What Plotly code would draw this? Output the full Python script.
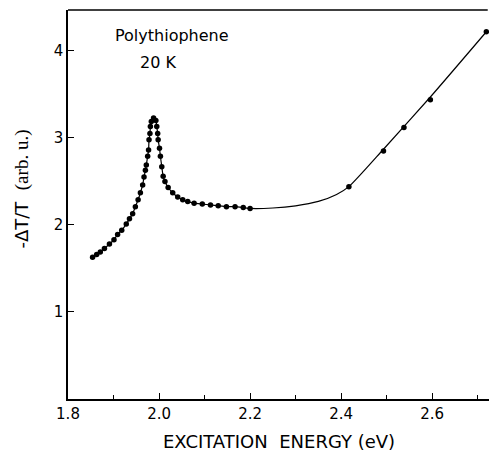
import plotly.graph_objects as go

# Measured points (energy in eV, -dT/T in arb. units)
energy = [1.854, 1.863, 1.871, 1.880, 1.891, 1.901, 1.909, 1.918, 1.928, 1.935,
          1.942, 1.948, 1.954, 1.959, 1.964, 1.967, 1.970, 1.972, 1.975, 1.977,
          1.978, 1.980, 1.981, 1.983, 1.988, 1.993, 1.995, 1.997, 1.998, 2.001,
          2.003, 2.006, 2.009, 2.013, 2.020, 2.030, 2.041, 2.052, 2.063, 2.077,
          2.095, 2.113, 2.130, 2.148, 2.167, 2.185, 2.200,
          2.417, 2.493, 2.538, 2.596, 2.719]
signal = [1.63, 1.66, 1.69, 1.73, 1.78, 1.83, 1.89, 1.94, 2.01, 2.07,
          2.13, 2.21, 2.29, 2.37, 2.46, 2.55, 2.63, 2.69, 2.79, 2.86,
          2.98, 3.05, 3.13, 3.19, 3.23, 3.20, 3.13, 3.05, 2.98, 2.88,
          2.79, 2.67, 2.56, 2.50, 2.43, 2.37, 2.32, 2.29, 2.27, 2.25,
          2.24, 2.23, 2.22, 2.21, 2.21, 2.20, 2.19,
          2.44, 2.85, 3.12, 3.44, 4.22]

# Drawn guide curve beyond the measured dense region
curve_x = [2.25, 2.30, 2.35, 2.39, 2.417, 2.493, 2.596, 2.719]
curve_y = [2.195, 2.22, 2.27, 2.35, 2.44, 2.87, 3.47, 4.22]

line_x = energy[:47] + curve_x
line_y = signal[:47] + curve_y

x_ticks = [1.8, 2.0, 2.2, 2.4, 2.6]
x_tick_labels = ["1.8", "2.0", "2.2", "2.4", "2.6"]
x_minor_ticks = [1.9, 2.1, 2.3, 2.5, 2.7]
y_ticks = [1, 2, 3, 4]
y_tick_labels = ["1", "2", "3", "4"]

fig = go.Figure()
fig.add_trace(go.Scatter(x=line_x, y=line_y, mode="lines",
                         line=dict(color="black", width=1.2, shape="spline", smoothing=0.6),
                         hoverinfo="skip", showlegend=False, cliponaxis=False))
fig.add_trace(go.Scatter(x=energy, y=signal, mode="markers",
                         marker=dict(color="black", size=5.5),
                         showlegend=False, cliponaxis=False))

font_main = "DejaVu Sans, Liberation Sans, sans-serif"

fig.update_layout(
    width=482, height=443,
    margin=dict(l=60, r=0, t=2, b=52),
    paper_bgcolor="white", plot_bgcolor="white",
    font=dict(family=font_main, color="black", size=15),
    xaxis=dict(range=[1.8, 2.727], tickvals=x_ticks, ticktext=x_tick_labels,
               ticks="inside", ticklen=6, tickwidth=1.2, tickcolor="black",
               minor=dict(tickvals=x_minor_ticks, ticks="inside",
                          ticklen=4, tickwidth=1, tickcolor="black"),
               showline=True, linecolor="black", linewidth=1.5, mirror=False,
               showgrid=False, zeroline=False,
               tickfont=dict(size=15, family=font_main)),
    yaxis=dict(range=[0, 4.47], tickvals=y_ticks, ticktext=y_tick_labels,
               ticks="inside", ticklen=6, tickwidth=1.2, tickcolor="black",
               showline=True, linecolor="black", linewidth=1.5,
               showgrid=False, zeroline=False,
               tickfont=dict(size=15, family=font_main)),
)

# top frame line (no right axis in the original)
fig.add_shape(type="line", xref="x", yref="paper", x0=1.8, x1=2.722, y0=1, y1=1,
              line=dict(color="black", width=1.3))

fig.add_annotation(text="EXCITATION  ENERGY (eV)", xref="paper", yref="paper",
                   x=0.5, y=-0.108, yanchor="middle", showarrow=False,
                   font=dict(size=18, family=font_main))
fig.add_annotation(text="-ΔT/T  <span style='font-family:Liberation Serif, Times New Roman, serif;font-size:19px'>(arb. u.)</span>",
                   xref="paper", yref="paper", x=-0.11, y=0.54, xanchor="center", yanchor="middle",
                   textangle=-90, showarrow=False, font=dict(size=18, family=font_main))
fig.add_annotation(text="Polythiophene", xref="paper", yref="paper",
                   x=0.107, y=0.935, xanchor="left", yanchor="middle", showarrow=False,
                   font=dict(size=16, family=font_main))
fig.add_annotation(text="20 K", xref="paper", yref="paper",
                   x=0.165, y=0.865, xanchor="left", yanchor="middle", showarrow=False,
                   font=dict(size=16, family=font_main))

fig.write_html("out.html")
